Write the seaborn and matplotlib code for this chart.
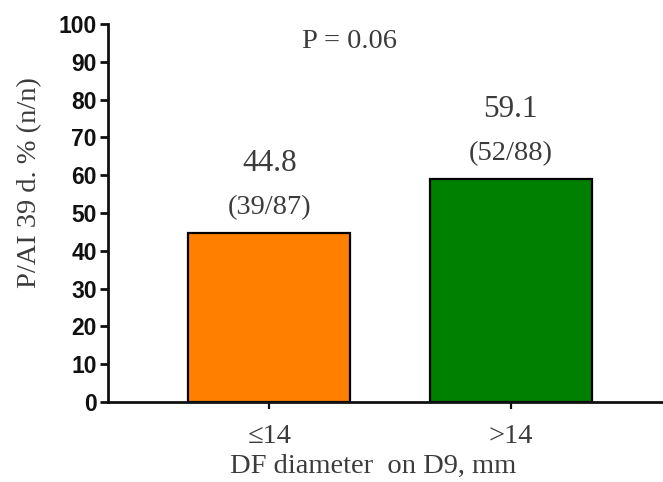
import matplotlib
matplotlib.use("Agg")
import matplotlib.pyplot as plt
import seaborn as sns
import pandas as pd

# Pregnancy per AI at day 39 by dominant follicle diameter on D9
categories = ["\u226414", ">14"]
percent = [44.8, 59.1]
ratios = ["(39/87)", "(52/88)"]
bar_colors = ["#FF8000", "#008000"]
p_text = "P = 0.06"
y_ticks = list(range(0, 101, 10))

sns.set_theme(style="ticks")
serif = ["Liberation Serif", "DejaVu Serif"]
sans = ["Liberation Sans", "DejaVu Sans"]
text_color = "#3b3b3b"

df = pd.DataFrame({"group": categories, "pct": percent})

W, H = 663, 482
fig = plt.figure(figsize=(W / 100, H / 100), dpi=100)
ax = fig.add_axes([108 / W, 80 / H, 1 - 108 / W, 378 / H])

sns.barplot(data=df, x="group", y="pct", hue="group", palette=bar_colors,
            width=0.67, edgecolor="black", linewidth=1.6, legend=False, ax=ax,
            saturation=1)

ax.set_ylim(0, 100)
ax.set_xlim(-0.668, 1.63)
ax.set_yticks(y_ticks)
ax.set_yticklabels([str(t) for t in y_ticks], family=sans, fontweight="bold",
                   fontsize=16.5, color="#111111")
ax.set_xticks(range(len(categories)))
ax.set_xticklabels(categories, family=serif, fontsize=20.5, color=text_color)

for side in ["top", "right"]:
    ax.spines[side].set_visible(False)
for side in ["left", "bottom"]:
    ax.spines[side].set_linewidth(2.0)
    ax.spines[side].set_color("#111111")
ax.tick_params(axis="y", length=6, width=2.0, pad=2, color="#111111")
ax.tick_params(axis="x", length=5, width=1.6, pad=11, color="#111111")
ax.set_xlabel("")
ax.set_ylabel("")

# axis titles placed in figure pixel coordinates
fig.text(373 / W, 1 - 466 / H, "DF diameter  on D9, mm", ha="center",
         va="center", family=serif, fontsize=20.5, color=text_color)
fig.text(30 / W, 1 - 183 / H, "P/AI 39 d. % (n/n)", ha="center",
         va="center", rotation=90, family=serif, fontsize=20.5,
         color=text_color)

# value and count labels above each bar
for i, (v, r) in enumerate(zip(percent, ratios)):
    ax.text(i, v + 18.4, f"{v}", ha="center", va="center", family=serif,
            fontsize=22.5, color=text_color)
    ax.text(i, v + 6.6, r, ha="center", va="center", family=serif,
            fontsize=20.5, color=text_color)

ax.text(0.5 - 0.17, 95.3, p_text, ha="center", va="center", family=serif,
        fontsize=20.5, color=text_color)

fig.savefig("out.png", dpi=100)
